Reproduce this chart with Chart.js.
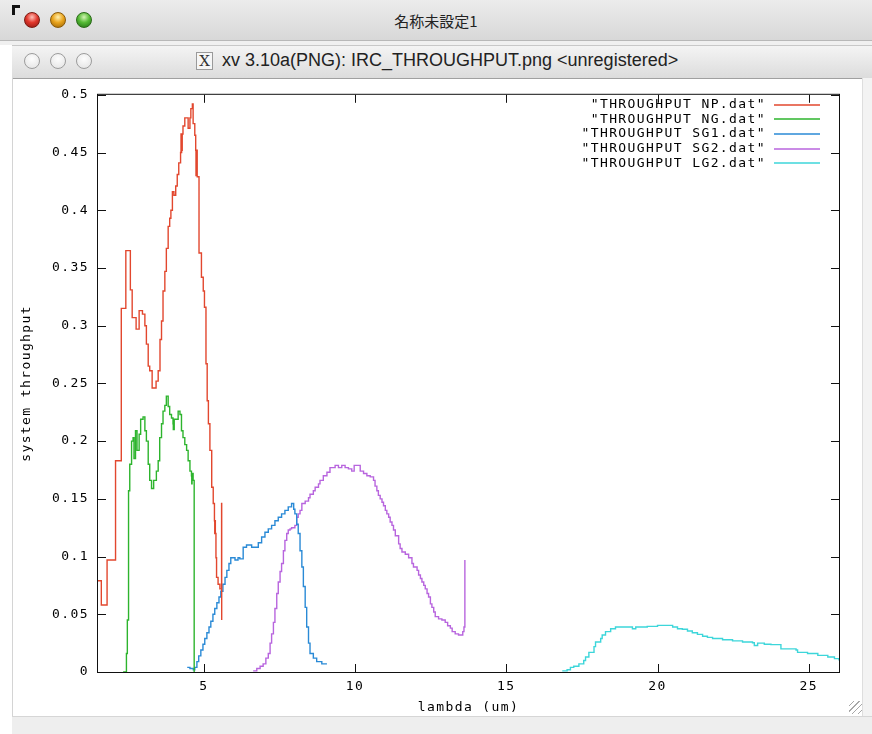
<!DOCTYPE html>
<html>
<head>
<meta charset="utf-8">
<script src="https://cdn.jsdelivr.net/npm/chart.js@4.4.1/dist/chart.umd.min.js"></script>
<style>
body { margin: 0; width: 872px; height: 734px; overflow: hidden; background: #fff; position: relative; font-family: "Liberation Sans", sans-serif; }
#bar1 { position: absolute; left: 0; top: 0; width: 872px; height: 40px; background: linear-gradient(#ececec, #d8d8d8); border-bottom: 1px solid #b8b8b8; }
#corner { position: absolute; left: 12px; top: 5px; width: 5px; height: 7px; border-left: 3px solid #111; border-top: 3px solid #111; }
#title1 { position: absolute; left: 0; width: 872px; top: 10px; text-align: center; font: 15px "Noto Sans CJK JP", sans-serif; color: #222; }
#gap { position: absolute; left: 0; top: 41px; width: 872px; height: 4px; background: #f0f0f0; }
#bar2 { position: absolute; left: 12px; top: 45px; width: 860px; height: 32px; background: linear-gradient(#f4f4f4, #dcdcdc); border-top: 1px solid #c8c8c8; border-bottom: 1px solid #a0a0a0; }
#title2 { position: absolute; left: 222px; top: 50px; font-size: 18px; color: #222; white-space: nowrap; }
#xicon { position: absolute; left: 196px; top: 52px; width: 15px; height: 16px; border: 1px solid #9a9a9a; background: #f6f6f6; font: 15px "DejaVu Serif", serif; line-height: 16px; text-align: center; color: #333; }
.dot { position: absolute; width: 16px; height: 16px; border-radius: 50%; box-sizing: border-box; }
.r { background: radial-gradient(circle at 50% 30%, #ffc2ba 0, #e2382d 45%, #8c1610 100%); border: 1px solid #7a1a12; }
.y { background: radial-gradient(circle at 50% 30%, #fff0b0 0, #eaa51e 45%, #9a6202 100%); border: 1px solid #8a5a08; }
.g { background: radial-gradient(circle at 50% 30%, #d4f4b4 0, #56bb36 45%, #1f6e12 100%); border: 1px solid #2a6a18; }
.o { background: radial-gradient(circle at 50% 35%, #fdfdfd 0, #e2e2e2 100%); border: 1px solid #9c9c9c; }
#win { position: absolute; left: 12px; top: 78px; width: 849px; height: 638px; border-left: 1px solid #d4d4d4; }
#rside { position: absolute; left: 862px; top: 78px; width: 10px; height: 638px; background: #f3f3f3; border-left: 1px solid #dedede; }
#bottom { position: absolute; left: 12px; top: 716px; width: 860px; height: 18px; background: #eeeeee; border-top: 1px solid #d6d6d6; }
#grip { position: absolute; left: 849px; top: 701px; width: 13px; height: 13px;
  background: repeating-linear-gradient(135deg, transparent 0 3px, #a8a8a8 3px 4px); }
canvas { position: absolute; left: 12px; top: 78px; }
</style>
</head>
<body>
<div id="bar1"></div>
<div id="corner"></div>
<div class="dot r" style="left:24px;top:12px"></div>
<div class="dot y" style="left:50px;top:12px"></div>
<div class="dot g" style="left:76px;top:12px"></div>
<div id="title1">名称未設定1</div>
<div id="gap"></div>
<div id="bar2"></div>
<div class="dot o" style="left:24px;top:53px"></div>
<div class="dot o" style="left:50px;top:53px"></div>
<div class="dot o" style="left:76px;top:53px"></div>
<div id="xicon">X</div>
<div id="title2">xv 3.10a(PNG): IRC_THROUGHPUT.png &lt;unregistered&gt;</div>
<div id="win"></div>
<div id="rside"></div>
<div id="bottom"></div>
<div id="grip"></div>
<canvas id="c" width="848" height="637"></canvas>
<script>
// throughput curves, [lambda (um), throughput] (step style)
var npData = [[1.50,0.079],[1.61,0.058],[1.80,0.097],[2.08,0.183],[2.27,0.315],[2.42,0.365],[2.57,0.331],[2.63,0.307],
  [2.76,0.297],[2.86,0.313],[2.97,0.310],[3.05,0.300],[3.10,0.284],[3.16,0.265],[3.21,0.261],[3.29,0.246],[3.42,0.252],
  [3.49,0.261],[3.55,0.288],[3.60,0.304],[3.65,0.330],[3.71,0.347],[3.76,0.367],[3.82,0.386],[3.87,0.393],[3.91,0.400],
  [3.96,0.416],[4.01,0.413],[4.07,0.421],[4.12,0.431],[4.17,0.441],[4.23,0.450],[4.245,0.466],[4.255,0.450],[4.265,0.466],
  [4.275,0.452],[4.285,0.466],[4.31,0.473],[4.37,0.480],[4.48,0.471],[4.54,0.480],[4.57,0.488],[4.62,0.492],[4.645,0.475],
  [4.70,0.465],[4.73,0.452],[4.74,0.430],[4.75,0.452],[4.76,0.430],[4.77,0.452],[4.78,0.429],[4.84,0.363],[4.92,0.342],
  [4.98,0.330],[5.02,0.316],[5.07,0.267],[5.11,0.235],[5.15,0.215],[5.20,0.192],[5.26,0.160],[5.31,0.146],[5.35,0.131],
  [5.36,0.120],[5.37,0.131],[5.38,0.120],[5.40,0.099],[5.42,0.082],[5.47,0.076],[5.53,0.072],[5.586,0.146],[5.59,0.045]];
var ngData = [[2.33,0.000],[2.44,0.016],[2.47,0.045],[2.51,0.157],[2.55,0.180],[2.61,0.200],[2.66,0.203],[2.69,0.185],
  [2.74,0.209],[2.79,0.192],[2.86,0.206],[2.91,0.219],[2.99,0.221],[3.05,0.209],[3.10,0.200],[3.16,0.180],[3.21,0.166],
  [3.27,0.159],[3.34,0.166],[3.43,0.174],[3.49,0.183],[3.54,0.203],[3.60,0.215],[3.65,0.226],[3.71,0.231],[3.76,0.239],
  [3.82,0.230],[3.87,0.223],[3.93,0.220],[3.98,0.215],[3.99,0.210],[4.00,0.218],[4.01,0.210],[4.02,0.219],[4.10,0.219],
  [4.15,0.226],[4.21,0.223],[4.26,0.209],[4.31,0.203],[4.37,0.197],[4.43,0.192],[4.48,0.183],[4.54,0.174],[4.59,0.170],
  [4.60,0.163],[4.61,0.172],[4.645,0.166],[4.68,0.000]];
var sg1Data = [[4.45,0.004],[4.54,0.003],[4.65,0.002],[4.70,0.004],[4.77,0.009],[4.83,0.014],[4.90,0.019],[4.97,0.024],
  [5.03,0.029],[5.10,0.034],[5.17,0.039],[5.23,0.044],[5.30,0.050],[5.36,0.055],[5.43,0.060],[5.50,0.065],[5.56,0.070],
  [5.63,0.076],[5.70,0.082],[5.76,0.088],[5.83,0.094],[5.89,0.099],[6.03,0.097],[6.13,0.099],[6.19,0.098],[6.30,0.108],
  [6.41,0.110],[6.58,0.108],[6.75,0.108],[6.80,0.112],[6.91,0.117],[7.02,0.121],[7.13,0.124],[7.24,0.127],[7.35,0.131],
  [7.46,0.134],[7.57,0.137],[7.68,0.140],[7.79,0.143],[7.90,0.146],[7.97,0.141],[8.01,0.137],[8.07,0.128],[8.12,0.120],
  [8.18,0.105],[8.24,0.091],[8.29,0.074],[8.35,0.056],[8.40,0.039],[8.46,0.025],[8.51,0.016],[8.62,0.012],[8.73,0.009],
  [8.90,0.007],[9.07,0.007]];
var sg2Data = [[6.63,0.001],[6.75,0.003],[6.86,0.005],[6.96,0.007],[7.05,0.012],[7.13,0.016],[7.19,0.025],[7.24,0.033],
  [7.30,0.043],[7.35,0.055],[7.41,0.068],[7.46,0.078],[7.52,0.087],[7.57,0.094],[7.63,0.105],[7.68,0.114],[7.74,0.120],
  [7.79,0.123],[7.85,0.124],[7.90,0.125],[8.01,0.127],[8.07,0.134],[8.12,0.137],[8.18,0.140],[8.24,0.146],[8.35,0.148],
  [8.46,0.151],[8.51,0.154],[8.62,0.157],[8.68,0.160],[8.79,0.163],[8.84,0.166],[8.95,0.170],[9.07,0.173],[9.17,0.177],
  [9.34,0.179],[9.45,0.177],[9.56,0.179],[9.67,0.177],[9.78,0.176],[9.89,0.174],[9.97,0.179],[10.17,0.174],[10.28,0.172],
  [10.39,0.170],[10.50,0.169],[10.61,0.166],[10.66,0.161],[10.72,0.157],[10.77,0.153],[10.83,0.150],[10.89,0.147],
  [10.94,0.144],[11.00,0.140],[11.05,0.137],[11.11,0.134],[11.16,0.130],[11.22,0.127],[11.27,0.123],[11.33,0.118],
  [11.44,0.111],[11.49,0.107],[11.55,0.104],[11.66,0.102],[11.77,0.099],[11.88,0.094],[11.93,0.091],[12.05,0.088],
  [12.10,0.084],[12.16,0.081],[12.21,0.078],[12.27,0.075],[12.32,0.072],[12.38,0.068],[12.43,0.065],[12.49,0.059],
  [12.54,0.056],[12.60,0.052],[12.65,0.048],[12.76,0.046],[12.87,0.045],[12.98,0.043],[13.06,0.040],[13.15,0.038],
  [13.21,0.035],[13.31,0.033],[13.42,0.032],[13.56,0.035],[13.60,0.039],[13.63,0.097]];
var lg2Data = [[16.85,0.001],[17.01,0.002],[17.12,0.004],[17.23,0.005],[17.40,0.007],[17.56,0.010],[17.62,0.013],
  [17.73,0.017],[17.90,0.022],[17.95,0.026],[18.12,0.029],[18.17,0.032],[18.28,0.035],[18.45,0.0375],[18.61,0.039],
  [19.17,0.0375],[19.28,0.039],[19.66,0.0395],[20.00,0.0404],[20.50,0.039],[20.66,0.0375],[20.82,0.037],[20.99,0.0355],
  [21.15,0.034],[21.32,0.0326],[21.49,0.031],[21.65,0.030],[21.82,0.029],[22.15,0.028],[22.48,0.027],[22.81,0.026],
  [23.14,0.0254],[23.20,0.023],[23.31,0.025],[23.53,0.024],[23.75,0.0237],[24.08,0.020],[24.58,0.019],[24.63,0.017],
  [24.96,0.016],[25.30,0.0144],[25.63,0.013],[25.85,0.0116],[26.0,0.010]];

var seriesNames = ['"THROUGHPUT NP.dat"', '"THROUGHPUT NG.dat"', '"THROUGHPUT SG1.dat"', '"THROUGHPUT SG2.dat"', '"THROUGHPUT LG2.dat"'];
var xTicks = [5, 10, 15, 20, 25];
var xLabels = ['5', '10', '15', '20', '25'];
var yTicks = [0, 0.05, 0.1, 0.15, 0.2, 0.25, 0.3, 0.35, 0.4, 0.45, 0.5];
var yLabels = ['0', '0.05', '0.1', '0.15', '0.2', '0.25', '0.3', '0.35', '0.4', '0.45', '0.5'];

var colors = ['#e2472e', '#2db42d', '#2a8ad6', '#b865de', '#3dd6da'];
var monoFont = { family: '"DejaVu Sans Mono", monospace', size: 13 };

function pts(arr) {
  return arr.map(function (p) { return { x: p[0], y: p[1] }; });
}

// gnuplot-ish frame: inward ticks on all sides, key at top right, axis labels
var gnuFrame = {
  id: 'gnuFrame',
  beforeDraw: function (chart) { chart.ctx.letterSpacing = '1.4px'; },
  afterDraw: function (chart) {
    var ctx = chart.ctx, a = chart.chartArea, sx = chart.scales.x, sy = chart.scales.y;
    ctx.save();
    ctx.strokeStyle = '#111';
    ctx.lineWidth = 1;
    ctx.strokeRect(a.left - 0.5, a.top - 0.5, a.right - a.left + 1, a.bottom - a.top + 1);
    ctx.beginPath();
    xTicks.forEach(function (v) {
      var px = Math.round(sx.getPixelForValue(v)) + 0.5;
      ctx.moveTo(px, a.bottom); ctx.lineTo(px, a.bottom - 8);
      ctx.moveTo(px, a.top); ctx.lineTo(px, a.top + 8);
    });
    yTicks.forEach(function (v) {
      var py = Math.round(sy.getPixelForValue(v)) + 0.5;
      ctx.moveTo(a.left, py); ctx.lineTo(a.left + 8, py);
      ctx.moveTo(a.right, py); ctx.lineTo(a.right - 8, py);
    });
    ctx.stroke();

    ctx.font = '13px "DejaVu Sans Mono", monospace';
    ctx.fillStyle = '#000';
    ctx.textBaseline = 'middle';
    ctx.textAlign = 'right';
    chart.data.datasets.forEach(function (d, i) {
      var yy = 26.5 + i * 14.7;
      ctx.fillText(d.label, 754, yy);
      ctx.strokeStyle = colors[i];
      ctx.lineWidth = 1.6;
      ctx.beginPath();
      ctx.moveTo(762, Math.round(yy));
      ctx.lineTo(808, Math.round(yy));
      ctx.stroke();
    });

    ctx.textAlign = 'center';
    ctx.fillText('lambda (um)', (a.left + a.right) / 2, 630);
    ctx.translate(15, (a.top + a.bottom) / 2);
    ctx.rotate(-Math.PI / 2);
    ctx.fillText('system throughput', 0, 0);
    ctx.restore();
  }
};

var allData = [npData, ngData, sg1Data, sg2Data, lg2Data];

new Chart(document.getElementById('c'), {
  type: 'line',
  data: {
    datasets: allData.map(function (arr, i) {
      return {
        label: seriesNames[i],
        data: pts(arr),
        borderColor: colors[i],
        borderWidth: 1.4,
        pointRadius: 0,
        stepped: true,
        fill: false
      };
    })
  },
  options: {
    responsive: false,
    animation: false,
    events: [],
    layout: { padding: { left: 0, top: 15, right: 21, bottom: 0 } },
    plugins: { legend: { display: false }, tooltip: { enabled: false } },
    scales: {
      x: {
        type: 'linear',
        min: 1.5,
        max: 26,
        grid: { display: false, drawTicks: false },
        border: { display: false },
        afterBuildTicks: function (s) { s.ticks = xTicks.map(function (v) { return { value: v }; }); },
        afterFit: function (s) { s.height = 43; },
        ticks: {
          color: '#000', font: monoFont, padding: 7, maxRotation: 0, autoSkip: false,
          callback: function (v, i) { return xLabels[i]; }
        }
      },
      y: {
        min: 0,
        max: 0.5,
        grid: { display: false, drawTicks: false },
        border: { display: false },
        afterBuildTicks: function (s) { s.ticks = yTicks.map(function (v) { return { value: v }; }); },
        afterFit: function (s) { s.width = 86; },
        ticks: {
          color: '#000', font: monoFont, padding: 9, autoSkip: false,
          callback: function (v, i) { return yLabels[i]; }
        }
      }
    }
  },
  plugins: [gnuFrame]
});
</script>
</body>
</html>
